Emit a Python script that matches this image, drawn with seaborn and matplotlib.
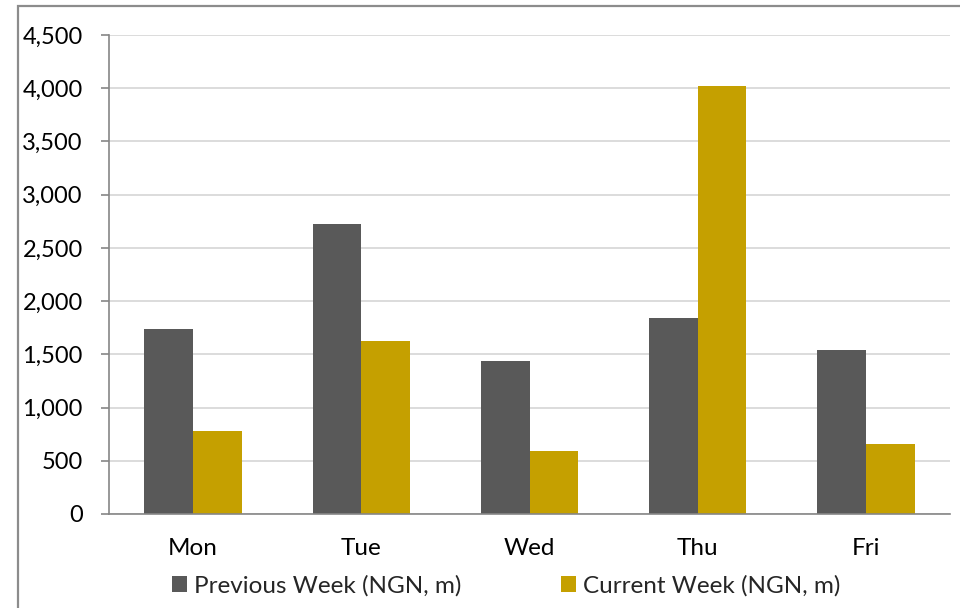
import matplotlib
matplotlib.use("Agg")
import matplotlib.pyplot as plt
import matplotlib.patches as mpatches
import seaborn as sns
import pandas as pd

days = ["Mon", "Tue", "Wed", "Thu", "Fri"]
previous_week = [1734, 2720, 1440, 1840, 1537]
current_week = [783, 1622, 596, 4019, 662]
series_names = ["Previous Week (NGN, m)", "Current Week (NGN, m)"]
y_ticks = [0, 500, 1000, 1500, 2000, 2500, 3000, 3500, 4000, 4500]

df = pd.DataFrame({
    "day": days * 2,
    "value": previous_week + current_week,
    "series": [series_names[0]] * len(days) + [series_names[1]] * len(days),
})

sns.set_theme(style="white")
plt.rcParams["font.family"] = ["Lato", "DejaVu Sans"]

colors = {series_names[0]: "#595959", series_names[1]: "#C5A000"}
axis_grey = "#868686"

fig = plt.figure(figsize=(9.6, 6.08), dpi=100)
ax = fig.add_axes([109 / 960, 1 - 514 / 608, (950 - 109) / 960, (514 - 35) / 608])

sns.barplot(data=df, x="day", y="value", hue="series", palette=colors,
            width=0.58, saturation=1, ax=ax, legend=False, errorbar=None,
            linewidth=0)

ax.set_ylim(0, 4500)
ax.set_xlim(-0.5, len(days) - 0.5)
ax.set_yticks(y_ticks)
ax.set_yticklabels([f"{v:,}" for v in y_ticks])
ax.set_xlabel("")
ax.set_ylabel("")

ax.yaxis.grid(True, color="#D9D9D9", linewidth=1.3)
ax.set_axisbelow(True)

for side in ["top", "right"]:
    ax.spines[side].set_visible(False)
for side in ["left", "bottom"]:
    ax.spines[side].set_color(axis_grey)
    ax.spines[side].set_linewidth(1.2)

# category ticks sit on the boundaries between days
ax.set_xticks([i - 0.5 for i in range(len(days) + 1)], minor=True)
ax.tick_params(axis="x", which="major", length=0, labelsize=17.5, pad=17, labelcolor="black")
ax.tick_params(axis="x", which="minor", length=5.8, width=1.2, color=axis_grey, direction="out")
ax.tick_params(axis="y", length=5.8, width=1.2, color=axis_grey, labelsize=17, pad=13,
               direction="out", left=True, labelcolor="black")

handles = [mpatches.Patch(facecolor=colors[s], edgecolor="none", label=s) for s in series_names]
fig.legend(handles=handles, loc="center", bbox_to_anchor=(506 / 960, 1 - 586 / 608),
           ncol=2, frameon=False, fontsize=17.5, handlelength=0.62, handleheight=0.62,
           handletextpad=0.29, columnspacing=4.1, borderaxespad=0, borderpad=0)

# outer chart frame
fig.patches.append(mpatches.Rectangle((18 / 960, -0.05), 1.1, 1 - 6 / 608 + 0.05,
                                      transform=fig.transFigure, fill=False,
                                      edgecolor="#8C8C8C", linewidth=1.6, clip_on=False))

fig.savefig("out.png", dpi=100)
